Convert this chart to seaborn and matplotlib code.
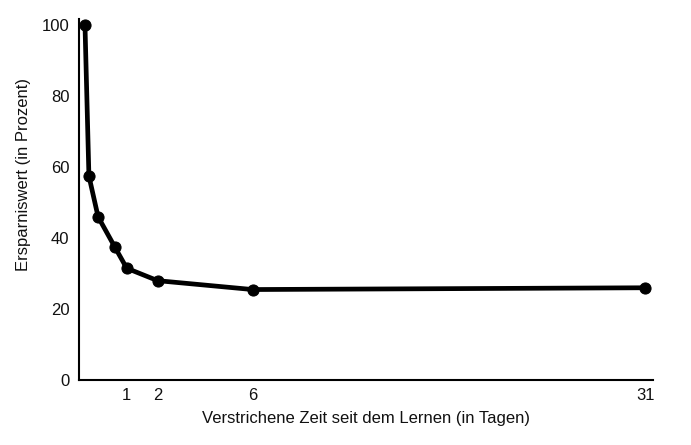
import numpy as np
import matplotlib
matplotlib.use("Agg")
import matplotlib.pyplot as plt
import seaborn as sns

# data (days since learning, savings in percent)
days = [0.056, 0.113, 0.28, 0.67, 1, 2, 6, 31]
savings = [100, 57.5, 46, 37.5, 31.5, 28, 25.5, 26]

x_ticks = [1, 2, 6, 31]
y_ticks = [0, 20, 40, 60, 80, 100]

x_label = "Verstrichene Zeit seit dem Lernen (in Tagen)"
y_label = "Ersparniswert (in Prozent)"

# the time axis is compressed, roughly a power scale
POWER = 0.72


def forward(x):
    return np.power(np.clip(x, 0, None), POWER)


def inverse(y):
    return np.power(np.clip(y, 0, None), 1 / POWER)


def main():
    sns.set_style("white")
    plt.rcParams["font.family"] = ["Liberation Sans", "DejaVu Sans"]

    fig = plt.figure(figsize=(6.91, 4.45), dpi=100)
    ax = fig.add_axes([0.1143, 0.146, 0.8307, 0.811])

    sns.lineplot(x=days, y=savings, ax=ax, color="black", linewidth=3.4,
                 marker="o", markersize=8, markeredgecolor="black")

    ax.set_xscale("function", functions=(forward, inverse))
    ax.set_xlim(0, 31.6)
    ax.set_ylim(0, 101.7)

    ax.set_xticks(x_ticks)
    ax.set_xticklabels([str(t) for t in x_ticks])
    ax.set_yticks(y_ticks)
    ax.minorticks_off()
    ax.tick_params(axis="both", length=0, labelsize=12, colors="#111111")
    ax.tick_params(axis="x", pad=6)
    ax.tick_params(axis="y", pad=7)

    ax.set_xlabel(x_label, fontsize=12, color="#111111")
    ax.set_ylabel(y_label, fontsize=12, color="#111111")
    ax.xaxis.set_label_coords(0.5, -0.085)
    ax.yaxis.set_label_coords(-0.083, 0.57)

    for side in ["top", "right"]:
        ax.spines[side].set_visible(False)
    for side in ["left", "bottom"]:
        ax.spines[side].set_color("black")
        ax.spines[side].set_linewidth(1.5)

    fig.savefig("out.png", dpi=100)


if __name__ == "__main__":
    main()
